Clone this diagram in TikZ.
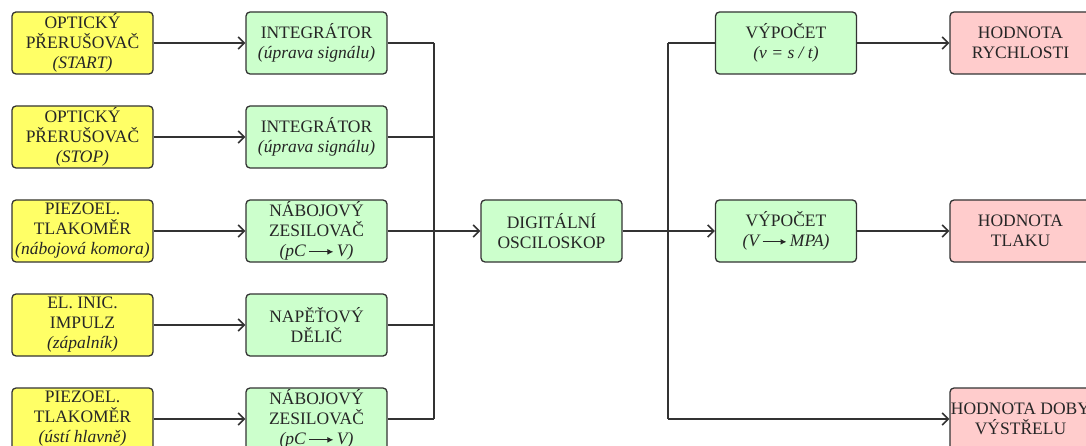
\documentclass[tikz,border=0pt]{standalone}
\usepackage{fontspec}
\setmainfont{Liberation Serif}
\newfontfamily\tnr{Liberation Serif}
\usetikzlibrary{arrows.meta}
\definecolor{ybox}{HTML}{FFFF66}
\definecolor{gbox}{HTML}{CCFFCC}
\definecolor{rbox}{HTML}{FFCCCC}
\definecolor{edge}{HTML}{333333}
\newcommand{\myarr}{\,\tikz[baseline=-0.6ex]\draw[line width=1.1pt,-{Latex[length=6pt,width=6pt]}] (0,0)--(24pt,0);\,}
\begin{document}
\begin{tikzpicture}[x=1pt,y=-1pt,
  blk/.style={draw=edge,line width=1.3pt,rounded corners=4pt,minimum width=141pt,minimum height=62pt,
    align=center,inner sep=0pt,font=\tnr\fontsize{17.5}{20}\selectfont,text=black!85},
  yb/.style={blk,fill=ybox},
  gb/.style={blk,fill=gbox},
  rb/.style={blk,fill=rbox},
  wire/.style={draw=edge,line width=1.3pt},
  arr/.style={wire,-{Straight Barb[length=6pt,width=12pt,line width=1.6pt]}}]
\clip (0,0) rectangle (1086,446);
\fill[white] (0,0) rectangle (1086,446);
% left column
\node[yb] (y1) at (82.5,43) {OPTICKÝ\\PŘERUŠOVAČ\\\textit{(START)}};
\node[yb] (y2) at (82.5,137) {OPTICKÝ\\PŘERUŠOVAČ\\\textit{(STOP)}};
\node[yb] (y3) at (82.5,231) {PIEZOEL.\\TLAKOMĚR\\\textit{(nábojová komora)}};
\node[yb] (y4) at (82.5,325) {EL. INIC.\\IMPULZ\\\textit{(zápalník)}};
\node[yb] (y5) at (82.5,419) {PIEZOEL.\\TLAKOMĚR\\\textit{(ústí hlavně)}};
% second column
\node[gb] (g1) at (316.5,43) {INTEGRÁTOR\\\textit{(úprava signálu)}};
\node[gb] (g2) at (316.5,137) {INTEGRÁTOR\\\textit{(úprava signálu)}};
\node[gb] (g3) at (316.5,231) {NÁBOJOVÝ\\ZESILOVAČ\\\textit{(pC\myarr V)}};
\node[gb] (g4) at (316.5,325) {NAPĚŤOVÝ\\DĚLIČ};
\node[gb] (g5) at (316.5,419) {NÁBOJOVÝ\\ZESILOVAČ\\\textit{(pC\myarr V)}};
% oscilloscope
\node[gb] (osc) at (551.5,231) {DIGITÁLNÍ\\OSCILOSKOP};
% computations
\node[gb] (v1) at (786,43) {VÝPOČET\\\textit{(v = s / t)}};
\node[gb] (v2) at (786,231) {VÝPOČET\\\textit{(V\myarr MPA)}};
% results
\node[rb] (r1) at (1020.5,43) {HODNOTA\\RYCHLOSTI};
\node[rb] (r2) at (1020.5,231) {HODNOTA\\TLAKU};
\node[rb] (r3) at (1020.5,419) {HODNOTA DOBY\\VÝSTŘELU};
% bus points
\foreach \i/\yy in {1/43,2/137,3/231,4/325,5/419}{
  \coordinate (b\i) at (434,\yy);
}
\coordinate (c1) at (668,43);
\coordinate (c3) at (668,231);
\coordinate (c5) at (668,419);
% connectors
\foreach \i in {1,...,5}{
  \draw[arr] (y\i) -- (g\i);
  \draw[wire] (g\i.east) -- (b\i);
}
\draw[wire] (b1) -- (b5);
\draw[arr] (b3) -- (osc);
\draw[wire] (osc.east) -- (c3);
\draw[wire] (c1) -- (c5);
\draw[wire] (c1) -- (v1.west);
\draw[arr] (c3) -- (v2);
\draw[arr] (c5) -- (r3);
\draw[arr] (v1) -- (r1);
\draw[arr] (v2) -- (r2);
\end{tikzpicture}
\end{document}
